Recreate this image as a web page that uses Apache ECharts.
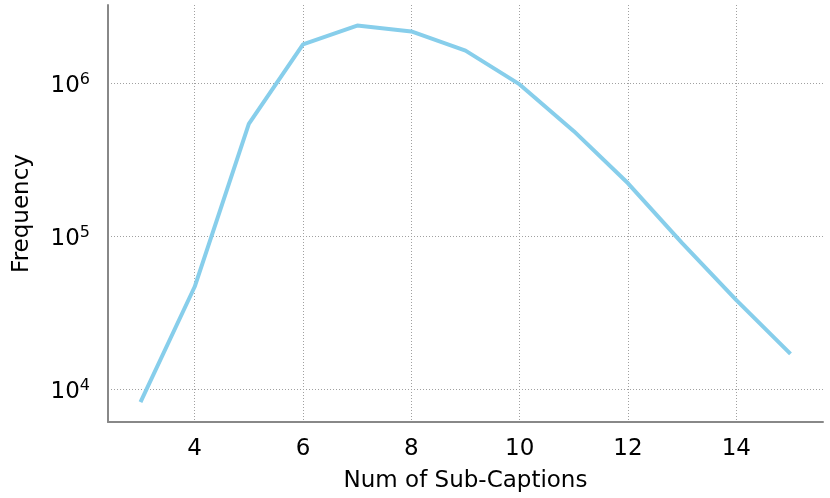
<!DOCTYPE html>
<html>
<head>
<meta charset="utf-8">
<script src="https://cdn.jsdelivr.net/npm/echarts@6/dist/echarts.min.js"></script>
<style>
html,body{margin:0;padding:0;background:#fff;}
#chart{width:830px;height:498px;}
</style>
</head>
<body>
<div id="chart"></div>
<script>
const numSubCaptions = [3, 4, 5, 6, 7, 8, 9, 10, 11, 12, 13, 14, 15];
const frequency = [8200, 46700, 543000, 1800000, 2390000, 2190000, 1640000, 985000, 487000, 222000, 90100, 38200, 17000];
const xTicks = [4, 6, 8, 10, 12, 14];
const yTicks = [10000, 100000, 1000000];
const xName = 'Num of Sub-Captions';
const yName = 'Frequency';

const FONT = 'DejaVu Sans';
const chart = echarts.init(document.getElementById('chart'), null, {renderer: 'canvas'});
chart.setOption({
  animation: false,
  backgroundColor: '#ffffff',
  grid: {left: 108, top: 5, right: 7, bottom: 75, containLabel: false},
  xAxis: {
    type: 'value', min: 2.4, max: 15.6,
    name: xName, nameLocation: 'middle', nameGap: 48,
    nameTextStyle: {fontFamily: FONT, fontSize: 23, color: '#000'},
    axisLine: {show: true, onZero: false, lineStyle: {color: '#888888', width: 2}},
    axisTick: {show: false, customValues: xTicks},
    axisLabel: {customValues: xTicks, margin: 16, fontFamily: FONT, fontSize: 23, color: '#000'},
    splitLine: {show: true, lineStyle: {color: '#a0a0a0', width: 1, type: [1, 2]}}
  },
  yAxis: {
    type: 'log', logBase: 10, min: 6085, max: 3260000,
    name: yName, nameLocation: 'middle', nameGap: 74,
    nameTextStyle: {fontFamily: FONT, fontSize: 23, color: '#000'},
    axisLine: {show: true, lineStyle: {color: '#888888', width: 2}},
    axisTick: {show: false, customValues: yTicks},
    axisLabel: {
      customValues: yTicks, margin: 18, padding: [3, 0, 0, 0],
      formatter: function (v) {
        const e = Math.round(Math.log10(v));
        return '{b|10}{s|' + e + '}';
      },
      rich: {
        b: {fontFamily: FONT, fontSize: 23, color: '#000', lineHeight: 26, verticalAlign: 'bottom'},
        s: {fontFamily: FONT, fontSize: 16, color: '#000', lineHeight: 18, verticalAlign: 'top'}
      }
    },
    splitLine: {show: true, lineStyle: {color: '#a0a0a0', width: 1, type: [1, 2]}}
  },
  series: [{
    type: 'line',
    data: numSubCaptions.map((x, i) => [x, frequency[i]]),
    showSymbol: false,
    lineStyle: {color: '#87CEEB', width: 4},
    itemStyle: {color: '#87CEEB'}
  }]
});
</script>
</body>
</html>
